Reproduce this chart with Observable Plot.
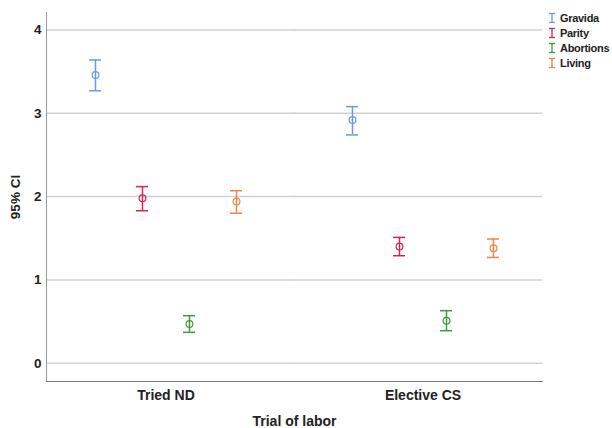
<!DOCTYPE html>
<html><head><meta charset="utf-8">
<script src="https://cdn.jsdelivr.net/npm/d3@7"></script>
<script src="https://cdn.jsdelivr.net/npm/@observablehq/plot@0.6"></script>
<style>
body{margin:0;background:#fff;font-family:"Liberation Sans",Arial,sans-serif;}
#wrap{position:relative;width:612px;height:428px;}
#legend{position:absolute;left:548px;top:11px;font-size:11px;letter-spacing:-0.3px;font-weight:bold;color:#222;}
.item{display:flex;align-items:center;height:14.8px;}
.item svg{margin-right:4px;}
</style></head><body><div id="wrap"><div id="chart"></div><div id="legend"></div></div>
<script>
const trials = ["Tried ND", "Elective CS"];
const measures = ["Gravida", "Parity", "Abortions", "Living"];
const colors = ["#6a9be0", "#d3264f", "#3f9a3f", "#ef8548"];
const meanTried = [3.46, 1.98, 0.47, 1.94];
const lowTried = [3.27, 1.83, 0.37, 1.80];
const highTried = [3.64, 2.12, 0.57, 2.07];
const meanElective = [2.92, 1.40, 0.51, 1.38];
const lowElective = [2.74, 1.29, 0.39, 1.27];
const highElective = [3.08, 1.51, 0.63, 1.49];
const yTicks = [0, 1, 2, 3, 4];

const rows = [];
measures.forEach((m, i) => {
  rows.push({trial: trials[0], measure: m, mean: meanTried[i], low: lowTried[i], high: highTried[i]});
  rows.push({trial: trials[1], measure: m, mean: meanElective[i], low: lowElective[i], high: highElective[i]});
});

const gridStyle = {stroke: "#d2d2d2", strokeWidth: 1.5};
const chart = Plot.plot({
  width: 612, height: 428,
  marginLeft: 46, marginRight: 69, marginTop: 12, marginBottom: 47,
  style: {fontFamily: "Liberation Sans, Arial, sans-serif", fontSize: "13.5px", fontWeight: "bold", color: "#222", background: "white"},
  fx: {domain: trials, paddingInner: 0.07, paddingOuter: 0},
  x: {domain: measures, type: "band", paddingInner: 0.748, paddingOuter: 0.9, axis: null},
  y: {domain: [-0.22, 4.21]},
  color: {domain: measures, range: colors},
  marks: [
    Plot.ruleY(yTicks, {y: d => d, fx: () => trials[0], insetRight: -10, ...gridStyle}),
    Plot.ruleY(yTicks, {y: d => d, fx: () => trials[1], insetLeft: -10, ...gridStyle}),
    Plot.frame({anchor: "left", facet: "super", stroke: "#9a9a9a"}),
    Plot.frame({anchor: "bottom", facet: "super", stroke: "#777"}),
    Plot.axisY(yTicks, {tickSize: 0, tickPadding: 5, tickFormat: d3.format("d"), label: "95% CI", labelAnchor: "center", labelArrow: "none", labelOffset: 36}),
    Plot.axisFx({anchor: "bottom", tickSize: 0, tickPadding: 9, fontSize: 14, label: "Trial of labor", labelAnchor: "center", labelArrow: "none", labelOffset: 44}),
    Plot.ruleX(rows, {fx: "trial", x: "measure", y1: "low", y2: "high", stroke: "measure", strokeWidth: 1.5}),
    Plot.tickY(rows, {fx: "trial", x: "measure", y: "low", stroke: "measure", strokeWidth: 1.5}),
    Plot.tickY(rows, {fx: "trial", x: "measure", y: "high", stroke: "measure", strokeWidth: 1.5}),
    Plot.dot(rows, {fx: "trial", x: "measure", y: "mean", stroke: "measure", r: 3.4, fill: "none", strokeWidth: 1.2})
  ]
});
document.getElementById("chart").appendChild(chart);

const legend = d3.select("#legend");
measures.forEach((m, i) => {
  const it = legend.append("div").attr("class", "item");
  const s = it.append("svg").attr("width", 8).attr("height", 12);
  s.append("line").attr("x1", 4).attr("x2", 4).attr("y1", 1.5).attr("y2", 10.5).attr("stroke", colors[i]).attr("stroke-width", 1.3);
  s.append("line").attr("x1", 1).attr("x2", 7).attr("y1", 1.5).attr("y2", 1.5).attr("stroke", colors[i]).attr("stroke-width", 1.3);
  s.append("line").attr("x1", 1).attr("x2", 7).attr("y1", 10.5).attr("y2", 10.5).attr("stroke", colors[i]).attr("stroke-width", 1.3);
  it.append("span").text(m);
});
</script></body></html>
